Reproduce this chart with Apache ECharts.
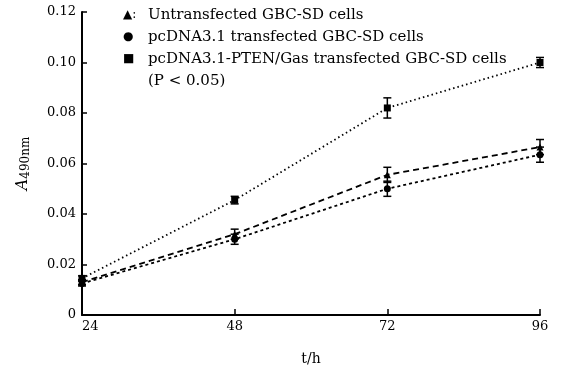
<!DOCTYPE html>
<html><head><meta charset="utf-8">
<script src="https://cdn.jsdelivr.net/npm/echarts@6/dist/echarts.min.js"></script>
<style>html,body{margin:0;padding:0;background:#fff}#c{width:577px;height:374px}</style>
</head><body><div id="c"></div>
<script>
const hours = [24, 48, 72, 96];
const yTicks = [0, 0.02, 0.04, 0.06, 0.08, 0.10, 0.12];
const untransfected = [0.0130, 0.0320, 0.0555, 0.0665];
const untransfectedErr = [0.0010, 0.0020, 0.0030, 0.0030];
const vectorOnly = [0.0125, 0.0300, 0.0500, 0.0635];
const vectorOnlyErr = [0.0010, 0.0020, 0.0030, 0.0030];
const geneTransfected = [0.0145, 0.0455, 0.0820, 0.1000];
const geneTransfectedErr = [0.0010, 0.0015, 0.0040, 0.0020];
const legendMarks = ['\u25B2:', '\u25CF', '\u25A0', ''];
const legendLines = [
  'Untransfected GBC-SD cells',
  'pcDNA3.1 transfected GBC-SD cells',
  'pcDNA3.1-PTEN/Gas transfected GBC-SD cells',
  '(P < 0.05)'
];
const font = 'DejaVu Serif';
const chart = echarts.init(document.getElementById('c'));
function pts(vals){ return hours.map((h,i)=>[h, vals[i]]); }
function errSeries(vals, errs){
  return {
    type: 'custom', silent: true, z: 5,
    data: hours.map((h,i)=>[h, vals[i]-errs[i], vals[i]+errs[i]]),
    renderItem: function(params, api){
      const lo = api.coord([api.value(0), api.value(1)]);
      const hi = api.coord([api.value(0), api.value(2)]);
      const w = 4;
      const st = {stroke:'#000', lineWidth:1.5};
      return {type:'group', children:[
        {type:'line', shape:{x1:lo[0],y1:lo[1],x2:hi[0],y2:hi[1]}, style:st},
        {type:'line', shape:{x1:lo[0]-w,y1:lo[1],x2:lo[0]+w,y2:lo[1]}, style:st},
        {type:'line', shape:{x1:hi[0]-w,y1:hi[1],x2:hi[0]+w,y2:hi[1]}, style:st}
      ]};
    }
  };
}
const graphics = [];
legendLines.forEach((t, i) => {
  if (legendMarks[i]) graphics.push({type: 'text', left: 123, top: 9 + i * 22,
    style: {text: legendMarks[i], fontFamily: font, fontSize: 12, fill: '#000'}});
  graphics.push({type: 'text', left: 148, top: 8 + i * 22,
    style: {text: t, fontFamily: font, fontSize: 15, fill: '#000'}});
});
chart.setOption({
  animation: false,
  backgroundColor: '#fff',
  grid: {left: 82, right: 37, top: 12, bottom: 59},
  xAxis: {
    type: 'value', min: 24, max: 96, interval: 24,
    name: 't/h', nameLocation: 'middle', nameGap: 37,
    nameTextStyle: {fontFamily: font, fontSize: 14, color: '#000'},
    axisLine: {lineStyle: {color: '#000', width: 2}},
    axisTick: {inside: true, length: 6, lineStyle: {color: '#000', width: 1.5}},
    axisLabel: {fontFamily: font, fontSize: 13, color: '#000', margin: 5, alignMinLabel: 'left'},
    splitLine: {show: false}
  },
  yAxis: {
    type: 'value', min: 0, max: 0.12, interval: 0.02,
    name: '{a|A}{s|490nm}', nameLocation: 'middle', nameGap: 50, nameRotate: 90,
    nameTextStyle: {fontFamily: font, color: '#000',
      rich: {a: {fontFamily: font, fontSize: 16, fontStyle: 'italic'}, s: {fontFamily: font, fontSize: 12, padding: [6, 0, 0, 0]}}},
    axisLine: {show: true, lineStyle: {color: '#000', width: 2}},
    axisTick: {show: true, inside: true, length: 5, lineStyle: {color: '#000', width: 1.5}},
    axisLabel: {fontFamily: font, fontSize: 13, color: '#000', margin: 6,
      formatter: v => { const t = yTicks.find(x => Math.abs(x - v) < 1e-9); return t === 0 ? '0' : t.toFixed(2); }},
    splitLine: {show: false}
  },
  graphic: graphics,
  series: [
    {type: 'line', data: pts(untransfected), symbol: 'triangle', symbolSize: 7,
     lineStyle: {color: '#000', width: 1.8, type: [6, 4]}, itemStyle: {color: '#000'}},
    {type: 'line', data: pts(vectorOnly), symbol: 'circle', symbolSize: 7,
     lineStyle: {color: '#000', width: 1.8, type: [3, 3]}, itemStyle: {color: '#000'}},
    {type: 'line', data: pts(geneTransfected), symbol: 'rect', symbolSize: 7,
     lineStyle: {color: '#000', width: 1.8, type: [1.5, 3]}, itemStyle: {color: '#000'}},
    errSeries(untransfected, untransfectedErr),
    errSeries(vectorOnly, vectorOnlyErr),
    errSeries(geneTransfected, geneTransfectedErr)
  ]
});
</script></body></html>
